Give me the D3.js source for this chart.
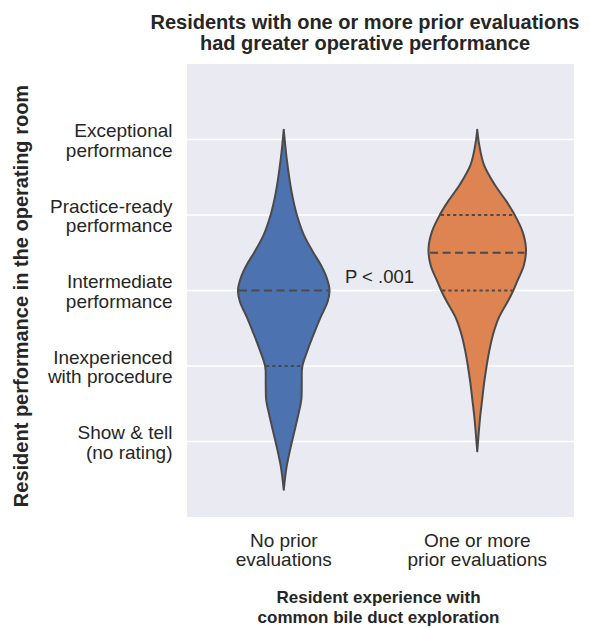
<!DOCTYPE html>
<html>
<head>
<meta charset="utf-8">
<script src="https://cdn.jsdelivr.net/npm/d3@7"></script>
<style>
  html, body { margin: 0; padding: 0; background: #ffffff; }
  svg { display: block; }
  text { font-family: "Liberation Sans", Arial, Helvetica, sans-serif; fill: #262626; }
</style>
</head>
<body>
<svg id="chart" width="589" height="628"></svg>
<script>
// ---------------- data ----------------
const categories = ["No prior evaluations", "One or more prior evaluations"];
const categoryLabelLines = [["No prior", "evaluations"], ["One or more", "prior evaluations"]];
const seriesColors = ["#4c72b0", "#dd8452"];

const tickValues = [1, 2, 3, 4, 5];
const tickLabelLines = [
  ["Show & tell", "(no rating)"],
  ["Inexperienced", "with procedure"],
  ["Intermediate", "performance"],
  ["Practice-ready", "performance"],
  ["Exceptional", "performance"]
];

// kernel density outline (score -> relative density)
const noPriorScore   = [5.13, 4.75, 4.31, 4.00, 3.74, 3.51, 3.34, 3.17, 3.00, 2.85, 2.65, 2.43, 2.21, 1.99, 1.77, 1.55, 1.33, 1.11, 0.89, 0.67, 0.36];
const noPriorDensity = [0.00, 0.06, 0.16, 0.27, 0.41, 0.60, 0.76, 0.88, 0.94, 0.90, 0.76, 0.62, 0.49, 0.38, 0.37, 0.36, 0.29, 0.21, 0.13, 0.06, 0.00];
const priorScore     = [5.13, 4.93, 4.66, 4.40, 4.18, 4.00, 3.78, 3.56, 3.34, 3.12, 3.00, 2.87, 2.65, 2.43, 2.21, 1.99, 1.77, 1.55, 1.33, 1.11, 0.87];
const priorDensity   = [0.00, 0.04, 0.14, 0.36, 0.60, 0.77, 0.93, 1.00, 0.96, 0.82, 0.74, 0.64, 0.45, 0.33, 0.25, 0.19, 0.14, 0.10, 0.06, 0.03, 0.00];

// quartiles [Q1, median, Q3]
const noPriorQuartiles = [2, 3, 3];
const priorQuartiles   = [3, 3.5, 4];

const pValueText = "P < .001";
const titleLines = ["Residents with one or more prior evaluations", "had greater operative performance"];
const xTitleLines = ["Resident experience with", "common bile duct exploration"];
const yTitle = "Resident performance in the operating room";

// ---------------- layout ----------------
const plot = { left: 187, right: 574, top: 64, bottom: 517 };

const svg = d3.select("#chart");

const x = d3.scaleBand().domain(categories).range([plot.left, plot.right]).paddingInner(0).paddingOuter(0);
const y = d3.scaleLinear().domain([0, 6]).range([plot.bottom, plot.top]);
const wScale = d3.scaleLinear().domain([0, 1]).range([0, 48.7]);

// background
svg.append("rect")
  .attr("x", plot.left).attr("y", plot.top)
  .attr("width", plot.right - plot.left).attr("height", plot.bottom - plot.top)
  .attr("fill", "#eaeaf2");

// gridlines
svg.append("g").selectAll("line").data(tickValues).join("line")
  .attr("x1", plot.left).attr("x2", plot.right)
  .attr("y1", d => y(d)).attr("y2", d => y(d))
  .attr("stroke", "#ffffff").attr("stroke-width", 1.3);

// y tick labels
const yTicks = svg.append("g").attr("font-size", 19);
tickValues.forEach((v, i) => {
  const t = yTicks.append("text").attr("text-anchor", "end");
  t.append("tspan").attr("x", 172.5).attr("y", y(v) - 2.5).text(tickLabelLines[i][0]);
  t.append("tspan").attr("x", 172.5).attr("y", y(v) + 17).text(tickLabelLines[i][1]);
});

// x tick labels
const xTicks = svg.append("g").attr("font-size", 19);
categories.forEach((c, i) => {
  const cx = x(c) + x.bandwidth() / 2;
  const t = xTicks.append("text").attr("text-anchor", "middle");
  t.append("tspan").attr("x", cx).attr("y", 546.5).text(categoryLabelLines[i][0]);
  t.append("tspan").attr("x", cx).attr("y", 565.5).text(categoryLabelLines[i][1]);
});

// violins
const series = [
  { score: noPriorScore, density: noPriorDensity, q: noPriorQuartiles },
  { score: priorScore, density: priorDensity, q: priorQuartiles }
];

function densityAt(s, v) {
  for (let i = 0; i < s.score.length - 1; i++) {
    const a = s.score[i], b = s.score[i + 1];
    if (v <= a && v >= b) {
      const t = (a - v) / (a - b);
      return s.density[i] + t * (s.density[i + 1] - s.density[i]);
    }
  }
  return 0;
}

series.forEach((s, i) => {
  const cx = x(categories[i]) + x.bandwidth() / 2;
  const pts = s.score.map((v, k) => ({ v, d: s.density[k] }));
  const area = d3.area()
    .y(d => y(d.v))
    .x0(d => cx - wScale(d.d))
    .x1(d => cx + wScale(d.d))
    .curve(d3.curveCatmullRom.alpha(0.5));
  svg.append("path")
    .attr("d", area(pts))
    .attr("fill", seriesColors[i])
    .attr("stroke", "#4a4a4a")
    .attr("stroke-width", 2)
    .attr("stroke-linejoin", "round");

  const median = s.q[1];
  const lines = [
    { v: s.q[0], dash: "3.2,3" },
    { v: s.q[2], dash: "3.2,3" },
    { v: median, dash: "8,4.5" }
  ].filter((l, k) => k === 2 || l.v !== median);
  lines.forEach(l => {
    const hw = wScale(densityAt(s, l.v)) - 1;
    svg.append("line")
      .attr("x1", cx - hw).attr("x2", cx + hw)
      .attr("y1", y(l.v)).attr("y2", y(l.v))
      .attr("stroke", "#4a4a4a").attr("stroke-width", 2)
      .attr("stroke-dasharray", l.dash);
  });
});

// p-value annotation
svg.append("text")
  .attr("x", (plot.left + plot.right) / 2 - 1).attr("y", y(3) - 8)
  .attr("text-anchor", "middle").attr("font-size", 18.5)
  .text(pValueText);

// title
const title = svg.append("text").attr("text-anchor", "middle").attr("font-size", 20).attr("font-weight", "bold");
title.append("tspan").attr("x", 365).attr("y", 28.5).text(titleLines[0]);
title.append("tspan").attr("x", 365).attr("y", 50).text(titleLines[1]);

// x axis title
const xt = svg.append("text").attr("text-anchor", "middle").attr("font-size", 17).attr("font-weight", "bold");
xt.append("tspan").attr("x", (plot.left + plot.right) / 2 - 2).attr("y", 603).text(xTitleLines[0]);
xt.append("tspan").attr("x", (plot.left + plot.right) / 2 - 2).attr("y", 623).text(xTitleLines[1]);

// y axis title
svg.append("text")
  .attr("transform", "translate(27.5,296) rotate(-90)")
  .attr("text-anchor", "middle").attr("font-size", 20).attr("font-weight", "bold")
  .text(yTitle);
</script>
</body>
</html>
